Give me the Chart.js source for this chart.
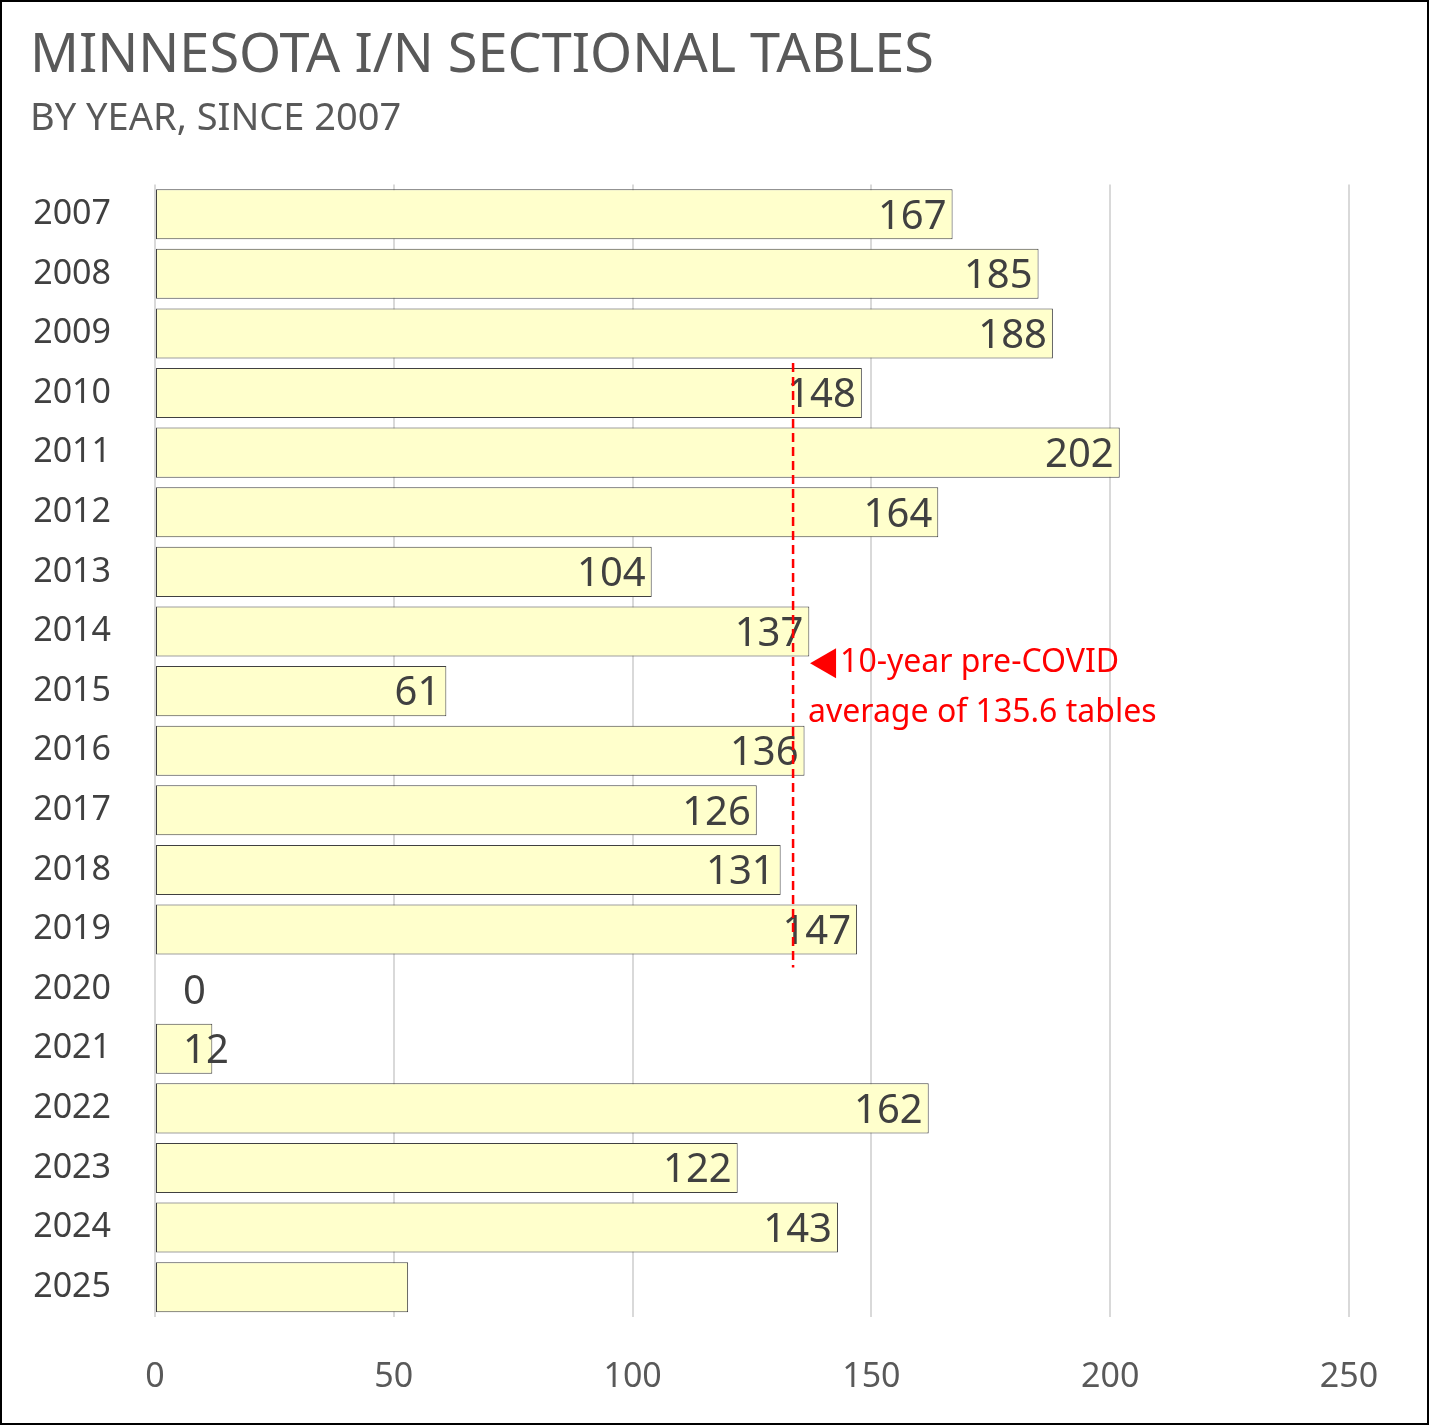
<!DOCTYPE html>
<html>
<head>
<meta charset="utf-8">
<script src="https://cdn.jsdelivr.net/npm/chart.js@4/dist/chart.umd.min.js"></script>
<style>
  body { margin: 0; background: #fff; }
  #wrap { width: 1425px; height: 1421px; border: 2px solid #000; position: relative; }
</style>
</head>
<body>
<div id="wrap"><canvas id="tablesChart" width="1425" height="1421"></canvas></div>
<script>
const years = ['2007','2008','2009','2010','2011','2012','2013','2014','2015','2016',
               '2017','2018','2019','2020','2021','2022','2023','2024','2025'];
const tables = [167,185,188,148,202,164,104,137,61,136,126,131,147,0,12,162,122,143,53];
const showLabel = [true,true,true,true,true,true,true,true,true,true,true,true,true,true,true,true,true,true,false];
const xTicks = [0,50,100,150,200,250];
const avgValue = 133.6;
const avgFrom = '2010', avgTo = '2019';
const avgText = ['10-year pre-COVID', 'average of 135.6 tables'];

const FONT = "'Noto Sans', 'Open Sans', sans-serif";

const barLabels = {
    id: 'barLabels',
    afterDatasetsDraw(chart) {
        const ctx = chart.ctx;
        const meta = chart.getDatasetMeta(0);
        const x0 = chart.scales.x.getPixelForValue(0);
        ctx.save();
        ctx.font = '40px ' + FONT;
        ctx.fillStyle = '#404040';
        ctx.textAlign = 'right';
        ctx.textBaseline = 'middle';
        meta.data.forEach((bar, i) => {
            if (!showLabel[i]) return;
            const txt = String(tables[i]);
            const w = ctx.measureText(txt).width;
            const x = Math.max(bar.x - 6, x0 + w + 28);
            ctx.fillText(txt, x, bar.y + 3);
        });
        ctx.restore();
    }
};

const avgLine = {
    id: 'avgLine',
    afterDatasetsDraw(chart) {
        const ctx = chart.ctx;
        const xs = chart.scales.x, ys = chart.scales.y;
        const meta = chart.getDatasetMeta(0);
        const iFrom = years.indexOf(avgFrom), iTo = years.indexOf(avgTo);
        const half = meta.data[iFrom].height / 2;
        const x = xs.getPixelForValue(avgValue);
        const yTop = ys.getPixelForValue(iFrom) - half - 5;
        const yBot = ys.getPixelForValue(iTo) + half + 13;
        ctx.save();
        ctx.strokeStyle = '#ff0000';
        ctx.lineWidth = 2.5;
        ctx.setLineDash([9, 5]);
        ctx.beginPath();
        ctx.moveTo(x, yTop);
        ctx.lineTo(x, yBot);
        ctx.stroke();
        ctx.setLineDash([]);
        // annotation
        const ty = (ys.getPixelForValue(7) + ys.getPixelForValue(8)) / 2 + 2;
        const tx = x + 17;
        ctx.fillStyle = '#ff0000';
        ctx.beginPath();
        ctx.moveTo(tx, ty);
        ctx.lineTo(tx + 26, ty - 15);
        ctx.lineTo(tx + 26, ty + 15);
        ctx.closePath();
        ctx.fill();
        ctx.font = '32px ' + FONT;
        ctx.textBaseline = 'middle';
        ctx.textAlign = 'left';
        ctx.fillText(avgText[0], tx + 30, ty);
        ctx.fillText(avgText[1], tx - 2, ty + 50);
        ctx.restore();
    }
};

const ctx = document.getElementById('tablesChart').getContext('2d');
new Chart(ctx, {
    type: 'bar',
    data: {
        labels: years,
        datasets: [{
            data: tables,
            backgroundColor: '#ffffcc',
            borderColor: '#404040',
            borderWidth: 1,
            borderSkipped: false,
            categoryPercentage: 0.84,
            barPercentage: 1
        }]
    },
    options: {
        indexAxis: 'y',
        responsive: false,
        animation: false,
        layout: { padding: { left: 28, right: 78, top: 22, bottom: 22 } },
        scales: {
            x: {
                min: 0, max: 250,
                afterBuildTicks: s => { s.ticks = xTicks.map(v => ({ value: v })); },
                grid: { color: '#d9d9d9', lineWidth: 2, drawTicks: false },
                border: { display: false },
                ticks: { padding: 40, color: '#595959', font: { size: 34, family: FONT } },
                afterFit: s => { s.height = 84; }
            },
            y: {
                grid: { display: false },
                border: { display: false },
                ticks: { padding: 36, color: '#404040', font: { size: 34, family: FONT } },
                afterFit: s => { s.width = 125; }
            }
        },
        plugins: {
            legend: { display: false },
            tooltip: { enabled: false },
            title: {
                display: true, align: 'start', text: 'MINNESOTA I/N SECTIONAL TABLES',
                color: '#595959', font: { size: 54, family: FONT, weight: 'normal' },
                padding: { top: 0, bottom: 8 }
            },
            subtitle: {
                display: true, align: 'start', text: 'BY YEAR, SINCE 2007',
                color: '#595959', font: { size: 38, family: FONT, weight: 'normal' },
                padding: { top: 0, bottom: 42 }
            }
        }
    },
    plugins: [barLabels, avgLine]
});
</script>
</body>
</html>
